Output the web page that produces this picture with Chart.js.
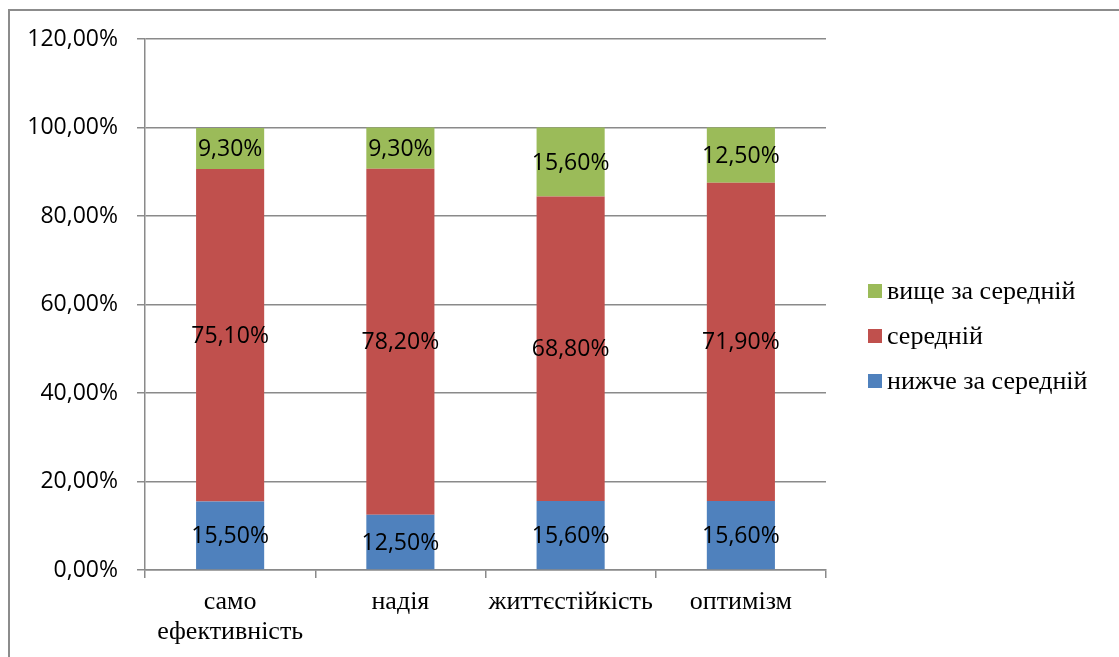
<!DOCTYPE html>
<html>
<head>
<meta charset="utf-8">
<script src="https://cdn.jsdelivr.net/npm/chart.js@4.4.1/dist/chart.umd.min.js"></script>
<style>
  html, body { margin: 0; padding: 0; background: #fff; }
  #wrap { position: relative; width: 1119px; height: 657px; overflow: hidden; }
  #frame { position: absolute; left: 8px; top: 9px; width: 1300px; height: 900px; border: 2px solid #8c8c8c; box-sizing: border-box; }
  canvas { position: absolute; left: 0; top: 0; }
  #legend { position: absolute; left: 868px; top: 0; font-family: "Liberation Serif", "Times New Roman", serif; font-size: 26px; color: #000; }
  .item { position: absolute; left: 0; white-space: nowrap; display: flex; align-items: center; height: 30px; }
  .sw { width: 14px; height: 14px; margin-right: 5px; display: inline-block; }
</style>
</head>
<body>
<div id="wrap">
  <div id="frame"></div>
  <canvas id="c" width="1119" height="657"></canvas>
  <div id="legend"></div>
</div>
<script>
const categories = [["само", "ефективність"], "надія", "життєстійкість", "оптимізм"];
const belowAverage = [15.5, 12.5, 15.6, 15.6];
const average = [75.1, 78.2, 68.8, 71.9];
const aboveAverage = [9.3, 9.3, 15.6, 12.5];
const seriesNames = ["нижче за середній", "середній", "вище за середній"];
const seriesColors = ["#4F81BD", "#C0504D", "#9BBB59"];
const yTicks = [0, 20, 40, 60, 80, 100, 120];

const fmt = v => v.toFixed(2).replace('.', ',') + '%';
const sansFamily = '"Open Sans", "Liberation Sans", Arial, sans-serif';

const labelPlugin = {
  id: 'segLabels',
  afterDatasetsDraw(chart) {
    const ctx = chart.ctx;
    ctx.save();
    ctx.font = '23px ' + sansFamily;
    ctx.fillStyle = '#000';
    ctx.textAlign = 'center';
    ctx.textBaseline = 'middle';
    chart.data.datasets.forEach((ds, di) => {
      const meta = chart.getDatasetMeta(di);
      meta.data.forEach((bar, i) => {
        const y = (bar.y + bar.base) / 2;
        ctx.fillText(fmt(ds.data[i]), bar.x, y + 1);
      });
    });
    ctx.restore();
  }
};

const grey = '#8a8a8a';
new Chart(document.getElementById('c'), {
  type: 'bar',
  data: {
    labels: categories,
    datasets: [
      { label: seriesNames[0], data: belowAverage, backgroundColor: seriesColors[0] },
      { label: seriesNames[1], data: average, backgroundColor: seriesColors[1] },
      { label: seriesNames[2], data: aboveAverage, backgroundColor: seriesColors[2] }
    ]
  },
  options: {
    responsive: false,
    animation: false,
    events: [],
    layout: { padding: { left: 0, top: 39, right: 293, bottom: 0 } },
    datasets: { bar: { barPercentage: 0.4, categoryPercentage: 1 } },
    plugins: { legend: { display: false }, tooltip: { enabled: false } },
    scales: {
      x: {
        stacked: true,
        grid: { offset: true, drawOnChartArea: false, color: grey, lineWidth: 1.5, tickLength: 8 },
        border: { display: true, color: grey, width: 1.5 },
        ticks: {
          color: '#000',
          font: { family: '"Liberation Serif", "Times New Roman", serif', size: 26, lineHeight: 1.17 },
          padding: 9,
          maxRotation: 0,
          autoSkip: false
        },
        afterFit(scale) { scale.height = 87; }
      },
      y: {
        stacked: true,
        min: 0, max: 120,
        afterBuildTicks(scale) { scale.ticks = yTicks.map(v => ({ value: v })); },
        grid: { color: grey, lineWidth: 1.5, tickLength: 8 },
        border: { display: true, color: grey, width: 1.5 },
        ticks: {
          color: '#000',
          font: { family: sansFamily, size: 23 },
          padding: 19,
          callback: v => fmt(v)
        },
        afterFit(scale) { scale.width = 145; }
      }
    }
  },
  plugins: [labelPlugin]
});

const legend = document.getElementById('legend');
const order = [2, 1, 0];
const rowY = [291, 336, 381];
order.forEach((si, k) => {
  const d = document.createElement('div');
  d.className = 'item';
  d.style.top = (rowY[k] - 15) + 'px';
  const sw = document.createElement('span');
  sw.className = 'sw';
  sw.style.background = seriesColors[si];
  d.appendChild(sw);
  d.appendChild(document.createTextNode(seriesNames[si]));
  legend.appendChild(d);
});
</script>
</body>
</html>
